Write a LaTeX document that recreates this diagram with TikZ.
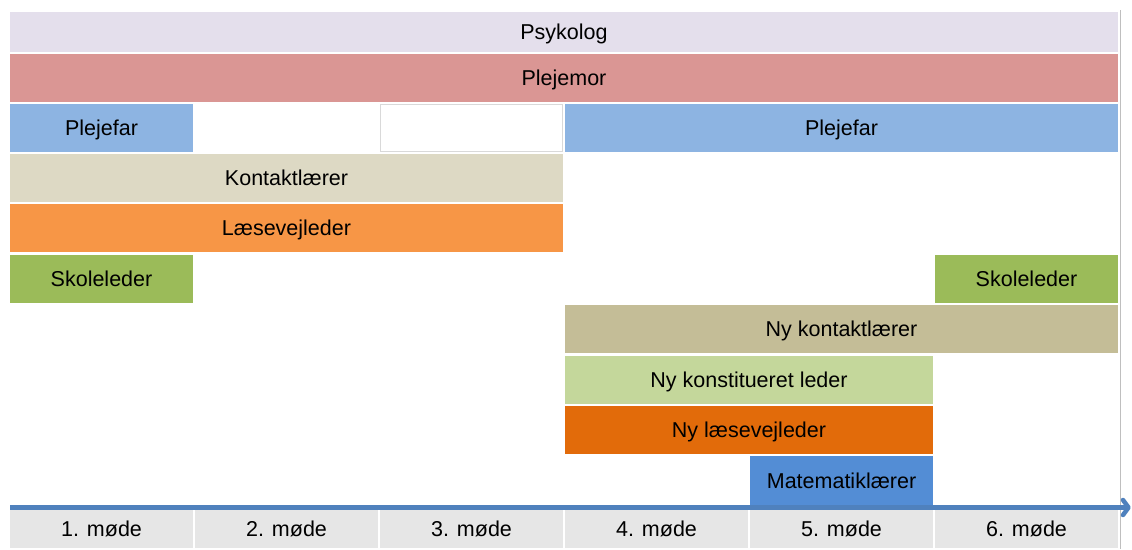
\documentclass[tikz,border=0pt]{standalone}
\usepackage{fontspec}
\setmainfont{Liberation Sans}

\definecolor{cPsy}{HTML}{E4DFEC}
\definecolor{cMor}{HTML}{DA9694}
\definecolor{cFar}{HTML}{8DB4E2}
\definecolor{cKon}{HTML}{DDD9C4}
\definecolor{cLaes}{HTML}{F79646}
\definecolor{cSkole}{HTML}{9BBB59}
\definecolor{cNyKon}{HTML}{C4BD97}
\definecolor{cNyLed}{HTML}{C4D79B}
\definecolor{cNyLaes}{HTML}{E26B0A}
\definecolor{cMat}{HTML}{538DD5}
\definecolor{cCell}{HTML}{E6E6E6}
\definecolor{cAxis}{HTML}{4F81BD}
\definecolor{cRule}{HTML}{BFBFBF}
\definecolor{cEdge}{HTML}{D9D9D9}

\begin{document}
\begin{tikzpicture}[x=1pt,y=-1pt,
  bar/.style={anchor=north west, inner sep=0pt, outer sep=0pt,
    minimum height=48pt, text depth=0pt,
    font=\fontsize{21.5}{25}\selectfont, text=black},
  cell/.style={bar, fill=cCell, minimum width=183pt, minimum height=38pt},
  axisline/.style={draw=cAxis, line width=4.5pt},
  axistip/.style={draw=cAxis, line width=4.5pt, line join=round, line cap=round}]
\useasboundingbox (0,0) rectangle (1132,549);
\fill[white] (0,0) rectangle (1132,549);

% right-hand guide rule
\coordinate (ruletop) at (1120,10);
\coordinate (rulebot) at (1120,549);
\draw[cRule, line width=1pt] (ruletop) -- (rulebot);

% participants per meeting
\node[bar, fill=cPsy, minimum width=1108pt, minimum height=40pt] (psykolog) at (10,12) {Psykolog};
\node[bar, fill=cMor, minimum width=1108pt] (plejemor) at (10,54) {Plejemor};
\node[bar, fill=cFar, minimum width=183pt] (plejefarA) at (10,104) {Plejefar};
\node[bar, draw=cEdge, line width=0.7pt, minimum width=182pt, minimum height=47pt] (tom) at (380.5,104.5) {};
\node[bar, fill=cFar, minimum width=553pt] (plejefarB) at (565,104) {Plejefar};
\node[bar, fill=cKon, minimum width=553pt] (kontakt) at (10,154) {Kontaktlærer};
\node[bar, fill=cLaes, minimum width=553pt] (laese) at (10,204) {Læsevejleder};
\node[bar, fill=cSkole, minimum width=183pt] (skoleA) at (10,255) {Skoleleder};
\node[bar, fill=cSkole, minimum width=183pt] (skoleB) at (935,255) {Skoleleder};
\node[bar, fill=cNyKon, minimum width=553pt] (nykontakt) at (565,305) {Ny kontaktlærer};
\node[bar, fill=cNyLed, minimum width=368pt] (nyleder) at (565,356) {Ny konstitueret leder};
\node[bar, fill=cNyLaes, minimum width=368pt] (nylaese) at (565,406) {Ny læsevejleder};
\node[bar, fill=cMat, minimum width=183pt, minimum height=50pt] (mat) at (750,456) {Matematiklærer};

% meeting labels
\foreach \i in {1,...,6} {
  \node[cell] (m\i) at ({10+185*(\i-1)},510) {\i. møde};
}

% time axis with an open chevron head
\coordinate (axstart) at (10,507.5);
\coordinate (axend) at (1128.5,507.5);
\coordinate (tipup) at (1123,500);
\coordinate (tipdown) at (1123,515);
\draw[axisline] (axstart) -- (axend);
\draw[axistip] (tipup) -- (axend) -- (tipdown);
\end{tikzpicture}
\end{document}
